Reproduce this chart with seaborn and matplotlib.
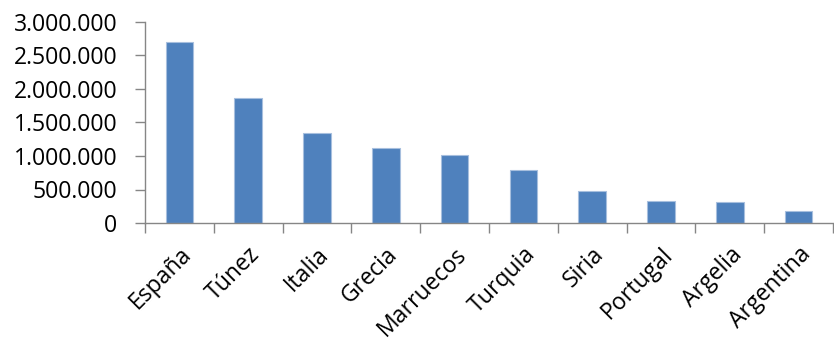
import matplotlib
matplotlib.use("Agg")
import matplotlib.pyplot as plt
from matplotlib.ticker import FuncFormatter, FixedLocator
import seaborn as sns
import pandas as pd

paises = ["España", "Túnez", "Italia", "Grecia", "Marruecos",
          "Turquia", "Siria", "Portugal", "Argelia", "Argentina"]
visitantes = [2700000, 1860000, 1345000, 1120000, 1010000,
              786000, 473000, 333000, 309000, 184000]
y_ticks = [0, 500000, 1000000, 1500000, 2000000, 2500000, 3000000]

df = pd.DataFrame({"pais": paises, "visitantes": visitantes})

sns.set_theme(style="white")
plt.rcParams["font.family"] = ["Open Sans", "DejaVu Sans"]

fig = plt.figure(figsize=(8.34, 3.38), dpi=100)
ax = fig.add_axes([145 / 834, 115 / 338, 688 / 834, 201 / 338])

sns.barplot(data=df, x="pais", y="visitantes", color="#4F81BD",
            width=0.4, edgecolor="#A7BFDE", linewidth=0.8, ax=ax,
            saturation=1)

ax.set_xlim(-0.5, len(paises) - 0.5)
ax.set_ylim(0, 3000000)
ax.set_xlabel("")
ax.set_ylabel("")

ax.yaxis.set_major_locator(FixedLocator(y_ticks))
ax.yaxis.set_major_formatter(FuncFormatter(lambda v, p: f"{int(v):,}".replace(",", ".")))

# category boundaries carry the tick marks, labels sit on category centres
ax.set_xticks(range(len(paises)))
ax.set_xticklabels(paises, rotation=45, ha="right", va="top",
                   rotation_mode="anchor")
ax.set_xticks([i - 0.5 for i in range(len(paises) + 1)], minor=True)

grey = "#868686"
for side in ["top", "right"]:
    ax.spines[side].set_visible(False)
for side in ["left", "bottom"]:
    ax.spines[side].set_color(grey)
    ax.spines[side].set_linewidth(1.0)

ax.tick_params(axis="x", which="major", length=0, pad=14, labelsize=16.6,
               colors="black")
ax.tick_params(axis="x", which="minor", length=7, width=1, color=grey,
               direction="out", bottom=True)
ax.tick_params(axis="y", which="major", length=7, width=1, color=grey,
               direction="out", left=True, labelsize=16.6, labelcolor="black",
               pad=13)

fig.savefig("out.png", dpi=100)
